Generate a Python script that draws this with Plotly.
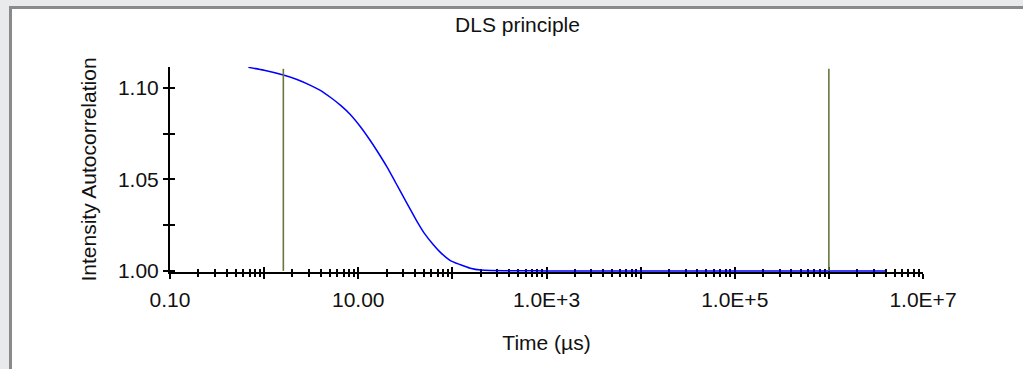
import plotly.graph_objects as go

# ---- data ----
time_us = [0.68, 1.0, 1.6, 2.2, 3.07, 4.0, 5.22, 6.5, 8.18, 10.5, 13.3, 16.5, 20.1, 25.0,
           30.2, 35.0, 41.9, 50.0, 62.8, 75.0, 94.4, 120.0, 155.0, 200.0, 1.0e3, 1.0e4,
           1.0e5, 1.0e6, 4.0e6]
g2 = [1.1113, 1.1097, 1.1071, 1.1048, 1.1016, 1.0986, 1.0944, 1.0905, 1.0857, 1.0790,
      1.0716, 1.0642, 1.0570, 1.0482, 1.0405, 1.0345, 1.0272, 1.0208, 1.0143, 1.0100,
      1.0058, 1.0035, 1.0015, 1.0005, 1.0, 1.0, 1.0, 1.0, 1.0]

cursor_times = [1.6, 1.0e6]
cursor_bottom = 1.0
cursor_top = 1.1105

x_tick_vals = [0.1, 1, 10, 100, 1e3, 1e4, 1e5, 1e6, 1e7]
x_tick_text = ["0.10", "", "10.00", "", "1.0E+3", "", "1.0E+5", "", "1.0E+7"]
x_minor_vals = [m * d for d in x_tick_vals[:-1] for m in range(2, 10)]
y_tick_vals = [1.00, 1.025, 1.05, 1.075, 1.10]
y_tick_text = ["1.00", "", "1.05", "", "1.10"]

title_text = "DLS principle"
x_title = "Time (µs)"
y_title = "Intensity Autocorrelation"

# ---- layout geometry (pixels) ----
W, H = 1023, 369
L, R, T, B = 170, 100, 67, 97
pw, ph = W - L - R, H - T - B


def px_x(p):
    return (p - L) / pw


def px_y(p):
    return (H - B - p) / ph


FONT = "Arial, Liberation Sans, sans-serif"
fig = go.Figure()

fig.add_trace(go.Scatter(x=time_us, y=g2, mode="lines",
                         line=dict(color="#0000ff", width=1.5, shape="spline",
                                   smoothing=0.7),
                         showlegend=False, hoverinfo="skip"))
for t in cursor_times:
    fig.add_trace(go.Scatter(x=[t, t], y=[cursor_bottom, cursor_top], mode="lines",
                             line=dict(color="#65783f", width=1.6), showlegend=False,
                             hoverinfo="skip"))
# invisible helpers so the overlaid tick-only axes are rendered
fig.add_trace(go.Scatter(x=time_us[:1], y=g2[:1], xaxis="x2", yaxis="y", mode="markers",
                         marker=dict(opacity=0), showlegend=False, hoverinfo="skip"))
fig.add_trace(go.Scatter(x=time_us[:1], y=g2[:1], xaxis="x", yaxis="y2", mode="markers",
                         marker=dict(opacity=0), showlegend=False, hoverinfo="skip"))

axis_common = dict(showgrid=False, zeroline=False, linecolor="black", linewidth=2,
                   tickcolor="black", tickwidth=2,
                   tickfont=dict(family=FONT, size=21, color="#111"))

fig.update_layout(
    width=W, height=H, autosize=False,
    margin=dict(l=L, r=R, t=T, b=B, pad=0),
    paper_bgcolor="#e9eaec", plot_bgcolor="white",
    title=dict(text=title_text, x=517.5 / W, xanchor="center", xref="container",
               y=1 - 25 / H, yanchor="middle", yref="container",
               font=dict(family=FONT, size=21, color="#111")),
    xaxis=dict(type="log", range=[-1, 7], showline=True, ticks="outside", ticklen=5,
               tickmode="array", tickvals=x_tick_vals, ticktext=x_tick_text,
               ticklabelstandoff=3,
               minor=dict(tickmode="array", tickvals=x_minor_vals, ticks="outside",
                          ticklen=3, tickwidth=2, tickcolor="black"),
               layer="below traces",
               title=dict(text=x_title, font=dict(family=FONT, size=21, color="#111"),
                          standoff=25),
               **axis_common),
    xaxis2=dict(type="log", range=[-1, 7], overlaying="x", anchor="y", side="bottom",
                showline=False, showgrid=False, zeroline=False, ticks="inside", ticklen=5,
                tickwidth=2, tickcolor="black", tickmode="array", tickvals=x_tick_vals,
                showticklabels=False,
                minor=dict(tickmode="array", tickvals=x_minor_vals, ticks="inside",
                           ticklen=3, tickwidth=2, tickcolor="black"),
                layer="below traces"),
    yaxis=dict(range=[0.9994, 1.1115], showline=True, ticks="outside", ticklen=5,
               tickmode="array", tickvals=y_tick_vals, ticktext=y_tick_text,
               layer="below traces",
               title=dict(text=y_title, font=dict(family=FONT, size=21, color="#111"),
                          standoff=16),
               **axis_common),
    yaxis2=dict(range=[0.9994, 1.1115], overlaying="y", anchor="x", side="left",
                showline=False, showgrid=False, zeroline=False, ticks="inside", ticklen=5,
                tickwidth=2, tickcolor="black", tickmode="array", tickvals=y_tick_vals,
                showticklabels=False, layer="below traces"),
    shapes=[
        dict(type="rect", xref="paper", yref="paper", layer="below",
             x0=px_x(9), x1=px_x(W + 20), y0=px_y(H + 20), y1=px_y(6),
             fillcolor="#8a8a8a", line=dict(width=0)),
        dict(type="rect", xref="paper", yref="paper", layer="below",
             x0=px_x(12), x1=px_x(W + 20), y0=px_y(H + 20), y1=px_y(9),
             fillcolor="white", line=dict(width=0)),
    ],
)

fig.write_html("out.html", config={"displayModeBar": False},
               post_script="document.body.style.margin='0';"
                           "document.body.style.overflow='hidden';")
